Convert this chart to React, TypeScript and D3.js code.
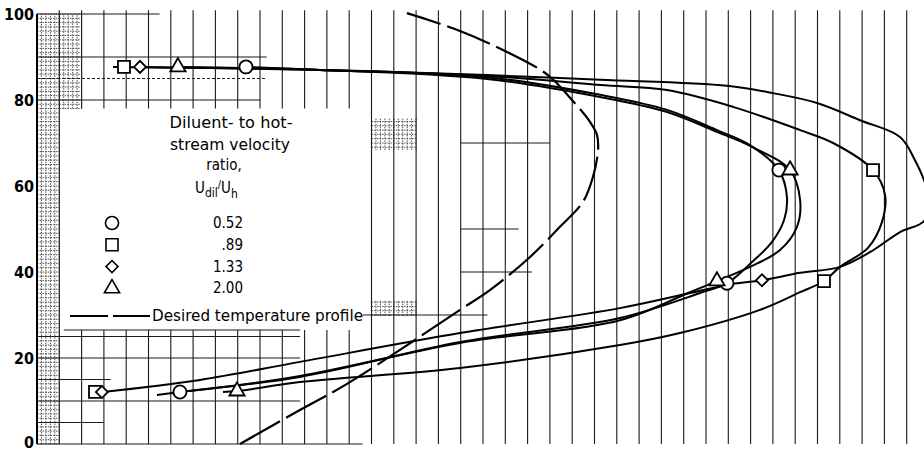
import React from 'react';
import * as d3 from 'd3';

type Pt = [number, number];

// x: grid divisions from the left edge, y: percent of passage height
const curveDiamond: Pt[] = [
  [4.62, 87.7], [12.69, 87.0], [20.18, 85.8], [25.25, 84.7], [30.94, 83.3], [33.0, 81.6],
  [34.98, 79.3], [36.91, 75.3], [38.7, 71.4], [39.37, 66.0], [39.9, 59.1], [39.82, 52.1],
  [38.7, 49.3], [37.35, 44.6], [36.01, 41.2], [34.22, 39.8], [32.51, 38.1], [30.94, 37.0],
  [29.28, 35.1], [26.14, 31.6], [18.97, 25.8], [11.79, 19.1], [7.31, 14.9], [2.96, 12.1],
];
const curveSquare: Pt[] = [
  [3.41, 87.7], [12.69, 87.0], [20.18, 85.6], [25.25, 83.5], [28.25, 82.3], [31.21, 78.4],
  [34.22, 73.0], [35.7, 70.0], [37.49, 63.7], [38.03, 57.9], [37.89, 51.6], [37.26, 45.6],
  [36.01, 41.2], [35.29, 37.9], [34.22, 35.3], [32.42, 31.2], [28.83, 25.8], [26.14, 23.0],
  [18.97, 17.7], [11.79, 14.4], [8.97, 12.3], [8.34, 12.1],
];
const curveCircle: Pt[] = [
  [9.37, 87.7], [12.69, 87.0], [20.18, 85.3], [25.25, 81.2], [28.25, 77.7], [30.49, 73.0],
  [31.97, 69.5], [33.27, 63.7], [33.63, 57.4], [33.5, 52.1], [32.96, 47.0], [32.06, 42.3],
  [30.94, 37.4], [29.73, 35.1], [26.14, 29.3], [18.97, 23.7], [11.79, 15.6], [6.41, 12.1],
  [5.38, 11.4],
];
const curveTriangle: Pt[] = [
  [6.32, 87.7], [12.69, 87.0], [20.18, 84.9], [25.25, 80.7], [28.25, 77.2], [30.49, 72.6],
  [32.06, 69.1], [33.77, 63.7], [34.22, 56.7], [34.08, 50.5], [33.32, 45.1], [31.97, 41.2],
  [30.49, 37.9], [29.28, 35.3], [26.14, 28.8], [18.97, 23.5], [11.79, 15.8], [6.86, 12.3],
];
const desiredProfile: Pt[] = [
  [9.1, 0], [11.79, 7.9], [13.81, 13.7], [16.28, 21.9], [18.97, 31.2], [20.31, 35.8],
  [22.11, 43.5], [23.45, 50.5], [24.48, 56.3], [24.93, 62.1], [25.16, 68.4], [25.11, 71.9],
  [24.8, 74.9], [23.99, 80.0], [22.91, 85.8], [20.99, 91.4], [18.74, 96.5], [16.59, 100.2],
];

const circleMarks: Pt[] = [[9.37, 87.7], [33.27, 63.7], [30.94, 37.4], [6.41, 12.1]];
const squareMarks: Pt[] = [[3.9, 87.7], [37.49, 63.7], [35.29, 37.9], [2.6, 12.1]];
const diamondMarks: Pt[] = [[4.62, 87.7], [32.51, 38.1], [2.91, 12.1]];
const triangleMarks: Pt[] = [[6.32, 87.7], [33.77, 63.7], [30.49, 37.9], [8.97, 12.3]];

const yTicks = [0, 20, 40, 60, 80, 100];
const legendSymbols = ['circle', 'square', 'diamond', 'triangle'];
const legendLabels = ['0.52', '.89', '1.33', '2.00'];

// partial horizontal rulings still visible on the scan: [y, xFrom, xTo]
const hRules: [number, number, number][] = [
  [100, 0, 5.5], [90, 0, 10.3], [85, 0, 10.3], [80, 0, 10],
  [25, 0, 11.8], [20, 0, 11.8], [15, 0, 3.3], [10, 0, 11.8], [5, 0, 3], [0, 0, 14.6],
  [26.5, 1.2, 11.8], [30, 14.6, 20.2], [70, 19, 23], [50, 19, 21.6], [40, 19, 22.2],
];
// patches of fine ruling: [x0, x1, y0, y1]
const finePatches: [number, number, number, number][] = [
  [0, 1, 0, 100], [1, 2, 78, 100], [15, 17, 68.4, 75.8], [15, 17, 29.8, 33.5],
];

const x = d3.scaleLinear().domain([0, 40]).range([37, 929]);
const y = d3.scaleLinear().domain([0, 100]).range([444, 14]);

const line = d3
  .line<Pt>()
  .x((d) => x(d[0]))
  .y((d) => y(d[1]))
  .curve(d3.curveCatmullRom.alpha(0.5));

const symbolPaths: Record<string, string> = {
  circle: d3.symbol(d3.symbolCircle, 135)() as string,
  square: d3.symbol(d3.symbolSquare, 144)() as string,
  diamond: d3.symbol(d3.symbolSquare, 72)() as string, // rotated 45deg when drawn
  triangle: d3.symbol(d3.symbolTriangle, 100)() as string,
};
const symRotate = (s: string) => (s === 'diamond' ? ' rotate(45)' : '');

const FONT = "'DejaVu Sans Condensed', 'Liberation Sans Narrow', sans-serif";

const App: React.FC = () => {
  // legend box in data units
  const boxX0 = 1.1, boxX1 = 14.6, boxY0 = 26.5, boxY1 = 78;

  const verticals: React.ReactNode[] = [];
  for (let k = 1; k < 40; k++) {
    const inBox = x(k) > x(boxX0) && x(k) < x(boxX1);
    const segs: [number, number][] = inBox ? [[0, boxY0], [boxY1, 100.9]] : [[0, 100.9]];
    segs.forEach(([a, b], i) =>
      verticals.push(
        <line key={`v${k}-${i}`} x1={x(k)} x2={x(k)} y1={y(a)} y2={y(b)} stroke="#1a1a1a" strokeWidth={1.1} />
      )
    );
  }

  const fine: React.ReactNode[] = [];
  finePatches.forEach(([x0, x1, y0, y1], p) => {
    for (let v = x0; v <= x1 + 1e-6; v += 0.2) {
      fine.push(<line key={`fv${p}-${v}`} x1={x(v)} x2={x(v)} y1={y(y0)} y2={y(y1)} stroke="#222" strokeWidth={0.8} strokeDasharray="1.5,1.2" />);
    }
    for (let h = Math.ceil(y0); h <= y1; h += 1) {
      fine.push(<line key={`fh${p}-${h}`} x1={x(x0)} x2={x(x1)} y1={y(h)} y2={y(h)} stroke="#222" strokeWidth={0.8} strokeDasharray="1.5,1.2" />);
    }
  });

  const marks = (pts: Pt[], sym: string) =>
    pts.map((d, i) => (
      <path key={`${sym}${i}`} d={symbolPaths[sym]} transform={`translate(${x(d[0])},${y(d[1])})${symRotate(sym)}`} fill="#fff" stroke="#000" strokeWidth={1.8} />
    ));

  return (
    <svg width={924} height={451} style={{ position: 'absolute', left: 0, top: 0, background: '#fff' }}>
      <rect width={924} height={451} fill="#fff" />
      {verticals}
      {hRules.map(([v, a, b], i) => (
        <line key={`h${i}`} x1={x(a)} x2={x(b)} y1={y(v)} y2={y(v)} stroke="#1a1a1a" strokeWidth={1.1} strokeDasharray={v === 85 ? '3,2' : undefined} />
      ))}
      {fine}
      <line x1={x(0)} x2={x(0)} y1={y(100)} y2={y(0)} stroke="#000" strokeWidth={2} />

      <path d={line(desiredProfile) as string} fill="none" stroke="#000" strokeWidth={2.2} strokeDasharray="46,7" />
      {[curveDiamond, curveSquare, curveCircle, curveTriangle].map((c, i) => (
        <path key={`c${i}`} d={line(c) as string} fill="none" stroke="#000" strokeWidth={2} />
      ))}
      {marks(circleMarks, 'circle')}
      {marks(squareMarks, 'square')}
      {marks(diamondMarks, 'diamond')}
      {marks(triangleMarks, 'triangle')}

      {yTicks.map((t) => (
        <text key={`t${t}`} x={34} y={Math.min(y(t) + 6, 448)} textAnchor="end" fontFamily={FONT} fontWeight="bold" fontSize={16} fill="#000">
          {t}
        </text>
      ))}

      <g fontFamily={FONT} fontSize={15} fill="#000">
        <text x={231} y={128} textAnchor="middle" textLength={123} lengthAdjust="spacingAndGlyphs">Diluent- to hot-</text>
        <text x={230} y={150} textAnchor="middle" textLength={120} lengthAdjust="spacingAndGlyphs">stream velocity</text>
        <text x={224} y={170} textAnchor="middle">ratio,</text>
        <text x={195} y={193}>
          U<tspan dy={4} fontSize={12}>dil</tspan>
          <tspan dy={-9} fontSize={11}>/</tspan>
          <tspan dy={5} fontSize={15}>U</tspan>
          <tspan dy={5} fontSize={12}>h</tspan>
        </text>
        {legendLabels.map((lab, i) => (
          <g key={`lg${i}`}>
            <path d={symbolPaths[legendSymbols[i]]} transform={`translate(112,${223 + i * 21.8})${symRotate(legendSymbols[i])}`} fill="#fff" stroke="#000" strokeWidth={1.6} />
            <text x={243} y={228 + i * 21.8} textAnchor="end">{lab}</text>
          </g>
        ))}
        <line x1={70} x2={150} y1={316} y2={316} stroke="#000" strokeWidth={2} strokeDasharray="38,5" />
        <text x={152} y={321} textLength={211} lengthAdjust="spacingAndGlyphs">Desired temperature profile</text>
      </g>
    </svg>
  );
};

export default App;
